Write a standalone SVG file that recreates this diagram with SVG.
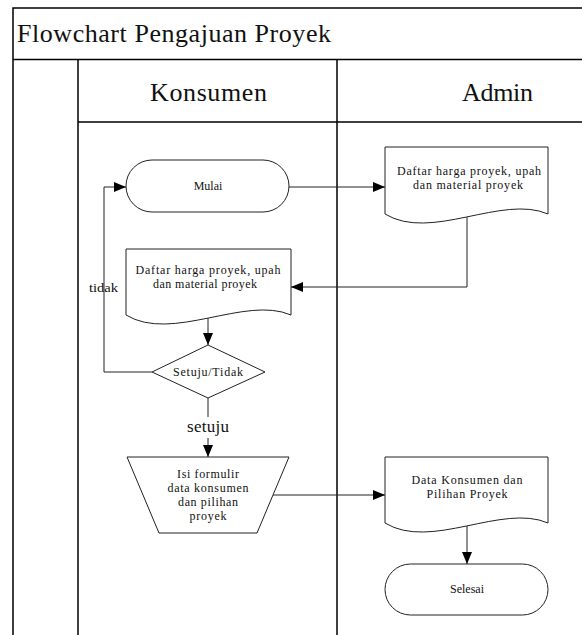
<svg xmlns="http://www.w3.org/2000/svg" width="582" height="635" viewBox="0 0 582 635">
  <style>
    .frame { fill: none; stroke: #000; stroke-width: 1.5; }
    .shape { fill: #fff; stroke: #222; stroke-width: 1; }
    .conn { fill: none; stroke: #222; stroke-width: 1; }
    text { font-family: "Liberation Serif", "Times New Roman", serif; fill: #111; }
    .big { font-size: 26px; }
    .small { font-size: 12px; text-anchor: middle; }
    .label { font-size: 17px; }
  </style>
  <defs>
    <marker id="arrow" markerUnits="userSpaceOnUse" markerWidth="12" markerHeight="10" refX="12" refY="5" orient="auto">
      <path d="M0,0 L12,5 L0,10 Z" fill="#000"/>
    </marker>
  </defs>

  <rect width="582" height="635" fill="#fff"/>

  <!-- swimlane frame -->
  <g id="frame">
    <path class="frame" d="M13,640 V8 H590 M13,59.5 H590 M78,59.5 V640 M337,59.5 V640 M78,122 H590"/>
    <text class="big" x="17" y="42" textLength="314" lengthAdjust="spacing">Flowchart Pengajuan Proyek</text>
    <text class="big" x="150" y="101" textLength="117" lengthAdjust="spacing">Konsumen</text>
    <text class="big" x="462" y="101" textLength="71" lengthAdjust="spacing">Admin</text>
  </g>

  <!-- connectors -->
  <g id="connectors">
    <path class="conn" d="M289,187 H385" marker-end="url(#arrow)"/>
    <path class="conn" d="M467,216 V287 H291" marker-end="url(#arrow)"/>
    <path class="conn" d="M208,316 V345" marker-end="url(#arrow)"/>
    <path class="conn" d="M152,372 H104 V187 H126" marker-end="url(#arrow)"/>
    <path class="conn" d="M208,398 V417"/>
    <path class="conn" d="M208,438 V457" marker-end="url(#arrow)"/>
    <path class="conn" d="M273,495 H385" marker-end="url(#arrow)"/>
    <path class="conn" d="M467,524 V564" marker-end="url(#arrow)"/>
    <text x="89" y="292" font-size="13" textLength="29" lengthAdjust="spacingAndGlyphs">tidak</text>
    <text class="label" x="187" y="432" textLength="42" lengthAdjust="spacing">setuju</text>
  </g>

  <!-- start -->
  <g id="mulai">
    <rect class="shape" x="126" y="160" width="163" height="52" rx="26" ry="26"/>
    <text class="small" x="208" y="190">Mulai</text>
  </g>

  <!-- price list received by admin -->
  <g id="daftar-admin">
    <path class="shape" d="M385,147 H548 V214 C502,194 431,242 385,214 Z"/>
    <text class="small" x="469" y="175" textLength="144" lengthAdjust="spacing">Daftar harga proyek, upah</text>
    <text class="small" x="468" y="189" textLength="110" lengthAdjust="spacing">dan material proyek</text>
  </g>

  <!-- price list received by customer -->
  <g id="daftar-konsumen">
    <path class="shape" d="M126,249 H291 V315 C245,295 172,343 126,315 Z"/>
    <text class="small" x="208" y="274" textLength="145" lengthAdjust="spacing">Daftar harga proyek, upah</text>
    <text class="small" x="205" y="288" textLength="104" lengthAdjust="spacing">dan material proyek</text>
  </g>

  <!-- decision -->
  <g id="keputusan">
    <polygon class="shape" points="208,345 265,372 208,398 152,372"/>
    <text class="small" x="208" y="376" textLength="70" lengthAdjust="spacing">Setuju/Tidak</text>
  </g>

  <!-- manual input -->
  <g id="isi-formulir">
    <polygon class="shape" points="127,457 289,457 257,533 159,533"/>
    <text class="small" x="208" y="478" textLength="62" lengthAdjust="spacing">Isi formulir</text>
    <text class="small" x="208" y="492" textLength="81" lengthAdjust="spacing">data konsumen</text>
    <text class="small" x="208" y="506" textLength="60" lengthAdjust="spacing">dan pilihan</text>
    <text class="small" x="208" y="520" textLength="37" lengthAdjust="spacing">proyek</text>
  </g>

  <!-- customer data document -->
  <g id="data-konsumen">
    <path class="shape" d="M385,457 H548 V523 C502,503 431,551 385,523 Z"/>
    <text class="small" x="467" y="484" textLength="111" lengthAdjust="spacing">Data Konsumen dan</text>
    <text class="small" x="467" y="498" textLength="81" lengthAdjust="spacing">Pilihan Proyek</text>
  </g>

  <!-- end -->
  <g id="selesai">
    <rect class="shape" x="385" y="564" width="163" height="51" rx="25.5" ry="25.5"/>
    <text class="small" x="467" y="593">Selesai</text>
  </g>
</svg>
